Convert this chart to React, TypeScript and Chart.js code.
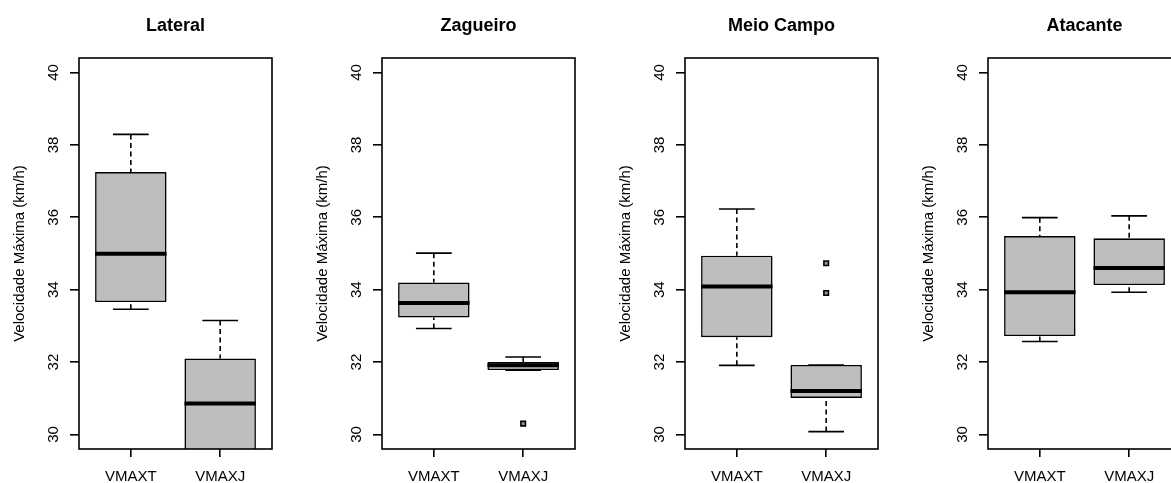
import React, { useEffect, useRef } from "react";
import { Chart, registerables } from "chart.js";

Chart.register(...registerables);

// ---------- data ----------
const panelTitles = ["Lateral", "Zagueiro", "Meio Campo", "Atacante"];
const categories = ["VMAXT", "VMAXJ"];
const yTicks = [30, 32, 34, 36, 38, 40];
const yLabel = "Velocidade Máxima (km/h)";

// each row = one panel, columns = [VMAXT, VMAXJ]
const whiskerLow = [
  [33.46, 28.8],
  [32.93, 31.78],
  [31.91, 30.08],
  [32.57, 33.93],
];
const quartile1 = [
  [33.66, 29.3],
  [33.23, 31.78],
  [32.69, 31.01],
  [32.72, 34.13],
];
const medians = [
  [34.99, 30.86],
  [33.63, 31.91],
  [34.09, 31.2],
  [33.93, 34.6],
];
const quartile3 = [
  [37.25, 32.1],
  [34.2, 32.0],
  [34.94, 31.92],
  [35.48, 35.42],
];
const whiskerHigh = [
  [38.29, 33.15],
  [35.01, 32.14],
  [36.23, 31.92],
  [35.99, 36.04],
];
const outliers: number[][][] = [
  [[], []],
  [[], [30.3]],
  [[], [34.73, 33.91]],
  [[], []],
];

// ---------- style ----------
const FONT = "'Liberation Sans', Arial, Helvetica, sans-serif";
const PANEL_W = 303;
const PANEL_H = 483;
const panelLefts = [0, 303, 606, 909];
const BOX_HALF = 0.4;
const STAPLE_HALF = 0.2;
const LINE_W = 1.6;

function makeBoxPlugin(p: number) {
  return {
    id: "boxplotExtras",
    afterDatasetsDraw(chart: any) {
      const { ctx, chartArea } = chart;
      const xs = chart.scales.x;
      const ys = chart.scales.y;
      ctx.save();
      ctx.beginPath();
      ctx.rect(
        chartArea.left,
        chartArea.top,
        chartArea.right - chartArea.left,
        chartArea.bottom - chartArea.top
      );
      ctx.clip();
      ctx.strokeStyle = "#000";
      categories.forEach((_, i) => {
        const v = i + 1;
        const cx = xs.getPixelForValue(v);
        const sL = xs.getPixelForValue(v - STAPLE_HALF);
        const sR = xs.getPixelForValue(v + STAPLE_HALF);
        const bL = xs.getPixelForValue(v - BOX_HALF);
        const bR = xs.getPixelForValue(v + BOX_HALF);
        const yWl = ys.getPixelForValue(whiskerLow[p][i]);
        const yQ1 = ys.getPixelForValue(quartile1[p][i]);
        const yMed = ys.getPixelForValue(medians[p][i]);
        const yQ3 = ys.getPixelForValue(quartile3[p][i]);
        const yWh = ys.getPixelForValue(whiskerHigh[p][i]);

        // dashed whiskers
        ctx.lineWidth = LINE_W;
        ctx.setLineDash([5, 3.5]);
        ctx.beginPath();
        ctx.moveTo(cx, yWh);
        ctx.lineTo(cx, yQ3);
        ctx.moveTo(cx, yWl);
        ctx.lineTo(cx, yQ1);
        ctx.stroke();

        // staples
        ctx.setLineDash([]);
        ctx.beginPath();
        ctx.moveTo(sL, yWh);
        ctx.lineTo(sR, yWh);
        ctx.moveTo(sL, yWl);
        ctx.lineTo(sR, yWl);
        ctx.stroke();

        // median
        ctx.lineWidth = 4;
        ctx.beginPath();
        ctx.moveTo(bL, yMed);
        ctx.lineTo(bR, yMed);
        ctx.stroke();
      });
      ctx.restore();
    },
    afterDraw(chart: any) {
      const { ctx, chartArea } = chart;
      ctx.save();
      ctx.strokeStyle = "#000";
      ctx.lineWidth = LINE_W;
      ctx.setLineDash([]);
      ctx.strokeRect(
        chartArea.left,
        chartArea.top,
        chartArea.right - chartArea.left,
        chartArea.bottom - chartArea.top
      );
      ctx.restore();
    },
  };
}

function buildConfig(p: number): any {
  const boxData = categories.map((_, i) => ({
    x: i + 1,
    y: [quartile1[p][i], quartile3[p][i]],
  }));
  const outlierData: { x: number; y: number }[] = [];
  categories.forEach((_, i) => {
    outliers[p][i].forEach((v) => outlierData.push({ x: i + 1, y: v }));
  });

  const tickFont = { family: FONT, size: 15 };

  return {
    type: "bar",
    data: {
      datasets: [
        {
          type: "bar",
          data: boxData,
          backgroundColor: "#bebebe",
          borderColor: "#000",
          borderWidth: LINE_W,
          borderSkipped: false,
          barPercentage: 0.8,
          categoryPercentage: 1.0,
        },
        {
          type: "scatter",
          data: outlierData,
          pointStyle: "rect",
          radius: 3.2,
          borderWidth: LINE_W,
          borderColor: "#000",
          backgroundColor: "#999",
        },
      ],
    },
    options: {
      responsive: false,
      animation: false,
      events: [],
      layout: { padding: { left: 0, right: 31, top: 0, bottom: 0 } },
      plugins: {
        legend: { display: false },
        tooltip: { enabled: false },
        title: {
          display: true,
          text: panelTitles[p],
          fullSize: false,
          color: "#000",
          font: { family: FONT, size: 18, weight: "bold" },
          padding: { top: 15, bottom: 21.4 },
        },
      },
      scales: {
        x: {
          type: "linear",
          min: 0.42,
          max: 2.58,
          offset: false,
          afterBuildTicks: (s: any) => {
            s.ticks = categories.map((_, i) => ({ value: i + 1 }));
          },
          afterFit: (s: any) => {
            s.height = 34;
          },
          ticks: {
            autoSkip: false,
            maxRotation: 0,
            minRotation: 0,
            padding: 11,
            color: "#000",
            font: tickFont,
            callback: (v: any) => categories[Math.round(Number(v)) - 1],
          },
          grid: {
            display: true,
            offset: false,
            drawOnChartArea: false,
            drawTicks: true,
            tickLength: 8,
            color: "#000",
            lineWidth: LINE_W,
          },
          border: { display: false },
        },
        y: {
          type: "linear",
          min: 29.6,
          max: 40.4,
          beginAtZero: false,
          afterBuildTicks: (s: any) => {
            s.ticks = yTicks.map((v) => ({ value: v }));
          },
          afterFit: (s: any) => {
            s.width = 79;
          },
          ticks: {
            minRotation: 90,
            maxRotation: 90,
            crossAlign: "center",
            padding: 8,
            color: "#000",
            font: tickFont,
          },
          grid: {
            display: true,
            drawOnChartArea: false,
            drawTicks: true,
            tickLength: 9,
            color: "#000",
            lineWidth: LINE_W,
          },
          border: { display: false },
          title: {
            display: true,
            text: yLabel,
            color: "#000",
            font: { family: FONT, size: 15 },
            padding: { top: 11, bottom: 0 },
          },
        },
      },
    },
    plugins: [makeBoxPlugin(p)],
  };
}

function Panel({ index }: { index: number }) {
  const ref = useRef<HTMLCanvasElement | null>(null);
  useEffect(() => {
    if (!ref.current) return;
    const chart = new Chart(ref.current, buildConfig(index));
    return () => chart.destroy();
  }, [index]);
  return (
    <canvas
      ref={ref}
      width={PANEL_W}
      height={PANEL_H}
      style={{
        position: "absolute",
        left: panelLefts[index],
        top: 0,
        width: PANEL_W,
        height: PANEL_H,
      }}
    />
  );
}

export default function App() {
  return (
    <div
      style={{
        position: "fixed",
        left: 0,
        top: 0,
        width: 1171,
        height: 483,
        overflow: "hidden",
        background: "#fff",
      }}
    >
      {panelTitles.map((_, i) => (
        <Panel key={i} index={i} />
      ))}
    </div>
  );
}
